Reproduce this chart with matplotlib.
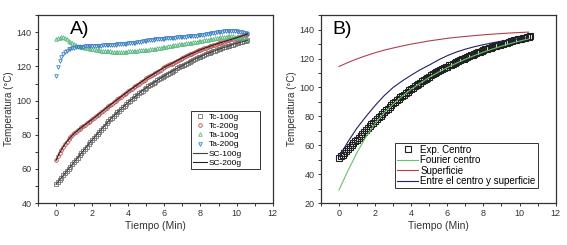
import numpy as np
import matplotlib.pyplot as plt
from matplotlib.ticker import MultipleLocator

plt.rcParams['font.family'] = ['Liberation Sans', 'DejaVu Sans']

# measured temperatures, one point every 0.1 min (0 .. 10.6 min)
tc100 = [51.0, 52.3, 53.6, 54.9, 56.2, 57.5, 58.8, 60.1, 61.4, 62.7,
         64.0, 65.3, 66.6, 67.9, 69.2, 70.5, 71.8, 73.1, 74.4, 75.7,
         77.0, 78.2, 79.4, 80.6, 81.8, 83.0, 84.2, 85.4, 86.6, 87.8,
         89.0, 90.1, 91.1, 92.1, 93.1, 94.1, 95.1, 96.1, 97.1, 98.1,
         99.0, 99.9, 100.8, 101.7, 102.5, 103.4, 104.2, 105.1, 105.9, 106.7,
         107.5, 108.3, 109.0, 109.7, 110.4, 111.1, 111.8, 112.5, 113.2, 113.9,
         114.5, 115.2, 115.8, 116.4, 117.0, 117.6, 118.2, 118.8, 119.4, 120.0,
         120.5, 121.1, 121.6, 122.2, 122.7, 123.3, 123.8, 124.3, 124.8, 125.3,
         125.8, 126.3, 126.7, 127.2, 127.6, 128.0, 128.4, 128.8, 129.2, 129.6,
         130.0, 130.4, 130.7, 131.1, 131.4, 131.8, 132.1, 132.5, 132.8, 133.2,
         133.5, 133.8, 134.1, 134.4, 134.7, 135.0, 135.3]
tc200 = [65.0, 67.4, 69.5, 71.3, 73.0, 74.6, 76.0, 77.3, 78.6, 79.7,
         80.8, 81.7, 82.6, 83.5, 84.3, 85.1, 85.9, 86.7, 87.5, 88.3,
         89.0, 89.9, 90.7, 91.6, 92.4, 93.3, 94.1, 95.0, 95.8, 96.7,
         97.5, 98.3, 99.1, 99.9, 100.7, 101.5, 102.3, 103.1, 103.9, 104.7,
         105.5, 106.3, 107.0, 107.8, 108.5, 109.3, 110.0, 110.8, 111.5, 112.3,
         113.0, 113.7, 114.3, 115.0, 115.6, 116.3, 116.9, 117.6, 118.2, 118.9,
         119.5, 120.1, 120.6, 121.2, 121.7, 122.3, 122.8, 123.4, 123.9, 124.5,
         125.0, 125.5, 126.0, 126.5, 127.0, 127.5, 127.9, 128.4, 128.9, 129.4,
         129.8, 130.2, 130.6, 131.0, 131.3, 131.7, 132.1, 132.5, 132.8, 133.2,
         133.5, 133.9, 134.2, 134.5, 134.8, 135.2, 135.5, 135.8, 136.1, 136.5,
         136.8, 137.2, 137.5, 137.9, 138.2, 138.6, 139.0]
ta100 = [136.0, 136.5, 136.8, 137.1, 137.0, 136.5, 135.8, 135.0, 134.3, 133.6,
         133.0, 132.5, 132.0, 131.7, 131.4, 131.2, 131.0, 130.8, 130.6, 130.4,
         130.2, 130.0, 129.8, 129.6, 129.4, 129.2, 129.1, 129.0, 128.9, 128.8,
         128.8, 128.7, 128.7, 128.6, 128.6, 128.6, 128.6, 128.6, 128.7, 128.7,
         128.8, 128.9, 129.0, 129.1, 129.2, 129.3, 129.4, 129.5, 129.6, 129.7,
         129.8, 129.9, 130.0, 130.1, 130.3, 130.4, 130.6, 130.8, 131.0, 131.2,
         131.4, 131.6, 131.8, 132.0, 132.2, 132.4, 132.6, 132.8, 133.0, 133.1,
         133.3, 133.4, 133.6, 133.7, 133.9, 134.0, 134.2, 134.3, 134.5, 134.6,
         134.8, 135.0, 135.2, 135.4, 135.6, 135.8, 136.0, 136.2, 136.4, 136.6,
         136.8, 137.0, 137.2, 137.3, 137.5, 137.6, 137.7, 137.7, 137.6, 137.5,
         137.3, 137.2, 137.0, 136.8, 136.6, 136.4, 136.3]
ta200 = [114.5, 119.5, 123.0, 125.5, 127.3, 128.5, 129.3, 130.0, 130.5, 130.8,
         131.0, 131.2, 131.3, 131.4, 131.5, 131.6, 131.7, 131.7, 131.8, 131.9,
         132.0, 132.0, 132.1, 132.1, 132.2, 132.2, 132.3, 132.3, 132.4, 132.4,
         132.5, 132.6, 132.7, 132.8, 132.9, 133.0, 133.1, 133.2, 133.3, 133.4,
         133.5, 133.6, 133.7, 133.8, 133.9, 134.1, 134.3, 134.5, 134.7, 134.9,
         135.0, 135.2, 135.3, 135.5, 135.6, 135.8, 135.9, 136.0, 136.1, 136.2,
         136.3, 136.4, 136.5, 136.6, 136.7, 136.8, 136.9, 137.0, 137.1, 137.2,
         137.3, 137.4, 137.5, 137.6, 137.7, 137.8, 137.9, 138.0, 138.1, 138.2,
         138.3, 138.4, 138.6, 138.8, 139.0, 139.2, 139.4, 139.6, 139.7, 139.9,
         140.0, 140.2, 140.4, 140.6, 140.7, 140.8, 140.9, 140.9, 140.8, 140.7,
         140.5, 140.3, 140.1, 139.9, 139.6, 139.4, 139.2]
t = np.arange(len(tc100)) * 0.1

# model curves of panel B, one value every 0.5 min
tm = np.arange(22) * 0.5
fourier = [29.0, 42.5, 55.0, 66.0, 75.0, 82.5, 88.5, 94.0, 98.8, 103.0, 107.0,
           110.5, 113.8, 116.8, 119.6, 122.1, 124.5, 126.6, 128.6, 130.4, 132.1, 133.6]
superficie = [114.5, 117.3, 119.8, 122.0, 124.0, 125.8, 127.3, 128.7, 130.0, 131.1, 132.2,
              133.1, 134.0, 134.7, 135.3, 135.9, 136.4, 136.9, 137.3, 137.7, 138.0, 138.3]
entre = [52.0, 62.5, 72.0, 80.0, 87.5, 94.3, 100.0, 104.5, 108.5, 112.3, 115.5,
         119.0, 122.0, 124.5, 126.5, 128.2, 129.6, 130.9, 132.0, 132.9, 133.7, 134.4]

fig = plt.figure(figsize=(5.67, 2.45), dpi=100)
axA = fig.add_axes([0.067, 0.171, 0.414, 0.767])
axB = fig.add_axes([0.566, 0.171, 0.414, 0.767])

ms = 2.6
axA.plot(t, tc100, 's', ms=ms, mfc='none', mec='#707070', mew=0.6, label='Tc-100g')
axA.plot(t, tc200, 'o', ms=ms, mfc='none', mec='#c04848', mew=0.6, label='Tc-200g')
axA.plot(t, ta100, '^', ms=ms, mfc='none', mec='#5cb880', mew=0.6, label='Ta-100g')
axA.plot(t, ta200, 'v', ms=ms, mfc='none', mec='#3a80c4', mew=0.6, label='Ta-200g')
axA.plot(t, tc100, '-', color='#404040', lw=0.8, label='SC-100g')
axA.plot(t, tc200, '-', color='#202020', lw=0.8, label='SC-200g')

axB.plot(t, tc100, 's', ms=4.0, mfc='none', mec='#202020', mew=0.8, label='Exp. Centro')
axB.plot(tm, fourier, '-', color='#66c266', lw=0.8, label='Fourier centro')
axB.plot(tm, superficie, '-', color='#b04050', lw=0.8, label='Superficie')
axB.plot(tm, entre, '-', color='#202060', lw=0.8, label='Entre el centro y superficie')

for ax, yl in ((axA, (40, 150)), (axB, (20, 150))):
    ax.set_xlim(-1, 12)
    ax.set_ylim(*yl)
    ax.xaxis.set_major_locator(MultipleLocator(2))
    ax.xaxis.set_minor_locator(MultipleLocator(1))
    ax.yaxis.set_major_locator(MultipleLocator(20))
    ax.yaxis.set_minor_locator(MultipleLocator(10))
    ax.tick_params(which='both', direction='out', labelsize=6.5, colors='#333333',
                   length=2.5, width=0.7, pad=2)
    for s in ax.spines.values():
        s.set_linewidth(0.9)
        s.set_color('#333333')
    ax.set_xlabel('Tiempo (Min)', fontsize=7.5, color='#333333', labelpad=2)
    ax.set_ylabel('Temperatura (°C)', fontsize=7, color='#333333', labelpad=2)

axA.text(0.135, 0.97, 'A)', transform=axA.transAxes, fontsize=14, va='top')
axB.text(0.05, 0.97, 'B)', transform=axB.transAxes, fontsize=14, va='top')

legA = axA.legend(loc='lower left', bbox_to_anchor=(0.651, 0.181, 0.294, 0.378), mode='expand',
                  fontsize=6, handlelength=1.6, handletextpad=0.3, labelspacing=0.15,
                  borderpad=0.3, fancybox=False, edgecolor='#333333', framealpha=1,
                  borderaxespad=0)
legA.get_frame().set_linewidth(0.7)
legB = axB.legend(loc='lower left', bbox_to_anchor=(0.315, 0.08, 0.608, 0.255), mode='expand',
                  fontsize=7, handlelength=2.2, handletextpad=0.2, labelspacing=0.05,
                  borderpad=0.2, fancybox=False, edgecolor='#333333', framealpha=1,
                  borderaxespad=0)
legB.get_frame().set_linewidth(0.7)

fig.savefig('out.png', dpi=100)
